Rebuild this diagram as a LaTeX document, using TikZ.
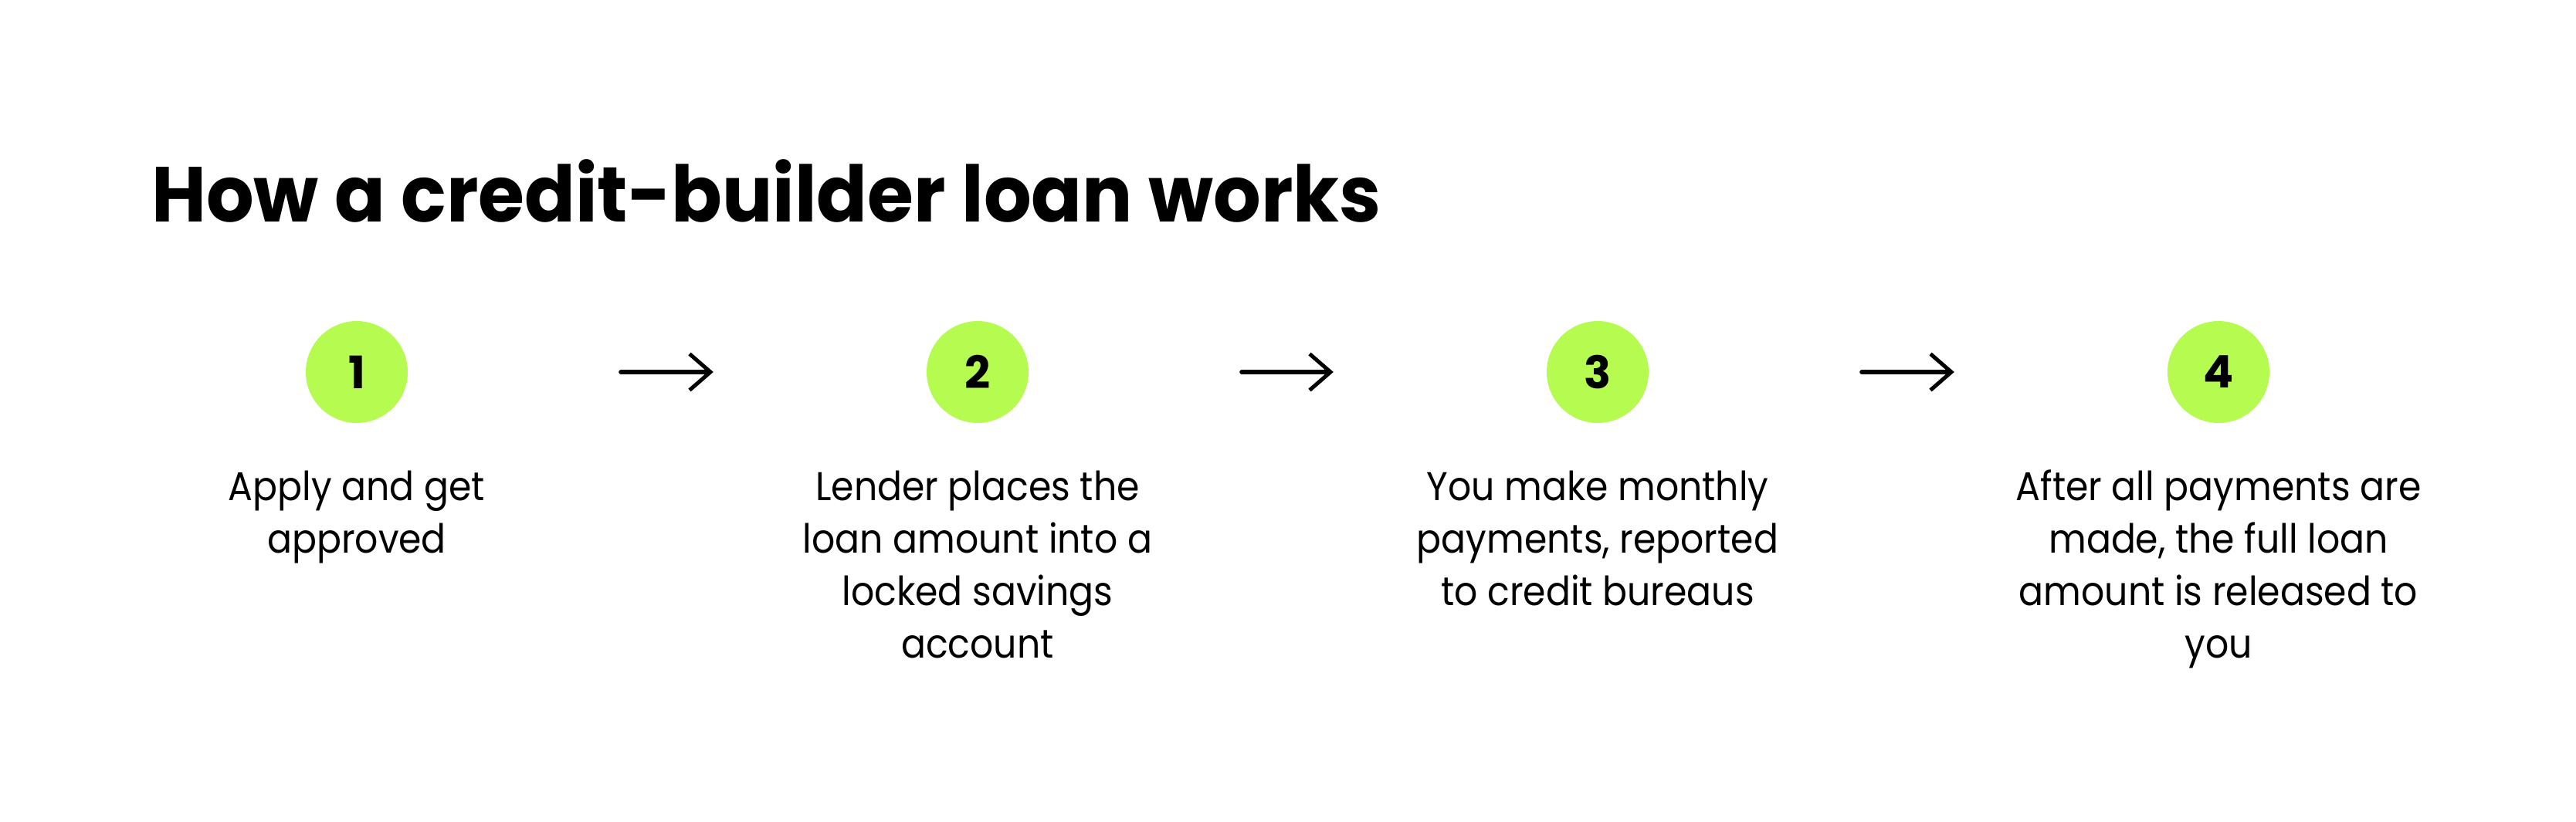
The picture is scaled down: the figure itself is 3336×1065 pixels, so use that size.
\documentclass[tikz,border=0pt]{standalone}
\usepackage{fontspec}
\setmainfont{Poppins}
\newfontfamily\bodyfont[FakeStretch=0.91]{Poppins}
\newfontfamily\titlefont[FakeStretch=0.96]{Poppins}
\usetikzlibrary{arrows.meta}
\definecolor{stepgreen}{HTML}{B6FB50}
\begin{document}
\begin{tikzpicture}[x=1pt,y=1pt,
  numcircle/.style={circle,fill=stepgreen,minimum size=132pt,inner sep=0pt,
    font=\fontsize{58}{58}\selectfont\bfseries},
  steptext/.style={anchor=base,inner sep=0pt,
    font=\bodyfont\fontsize{52}{68}\selectfont},
  flowarrow/.style={line width=6pt,line cap=round,
    -{Straight Barb[length=27pt,width=47pt,line width=5pt]},
    shorten <=276pt,shorten >=276pt}]
\useasboundingbox[fill=white] (0,0) rectangle (3336,-1065);
\node[anchor=base west,inner sep=0pt,font=\titlefont\fontsize{101}{101}\selectfont\bfseries] (title) at (196,-287.5) {How a credit-builder loan works};
\node[numcircle] (c1) at (462,-482) {1};
\node[numcircle] (c2) at (1266,-482) {2};
\node[numcircle] (c3) at (2069,-482) {3};
\node[numcircle] (c4) at (2873,-482) {4};
\node[steptext] (t1) at (462,-648) {\begin{tabular}[t]{@{}c@{}}Apply and get\\approved\end{tabular}};
\node[steptext] (t2) at (1266,-648) {\begin{tabular}[t]{@{}c@{}}Lender places the\\loan amount into a\\locked savings\\account\end{tabular}};
\node[steptext] (t3) at (2069,-648) {\begin{tabular}[t]{@{}c@{}}You make monthly\\payments, reported\\to credit bureaus\end{tabular}};
\node[steptext] (t4) at (2873,-648) {\begin{tabular}[t]{@{}c@{}}After all payments are\\made, the full loan\\amount is released to\\you\end{tabular}};
\draw[flowarrow] (c1.east) -- (c2.west);
\draw[flowarrow] (c2.east) -- (c3.west);
\draw[flowarrow] (c3.east) -- (c4.west);
\end{tikzpicture}
\end{document}
